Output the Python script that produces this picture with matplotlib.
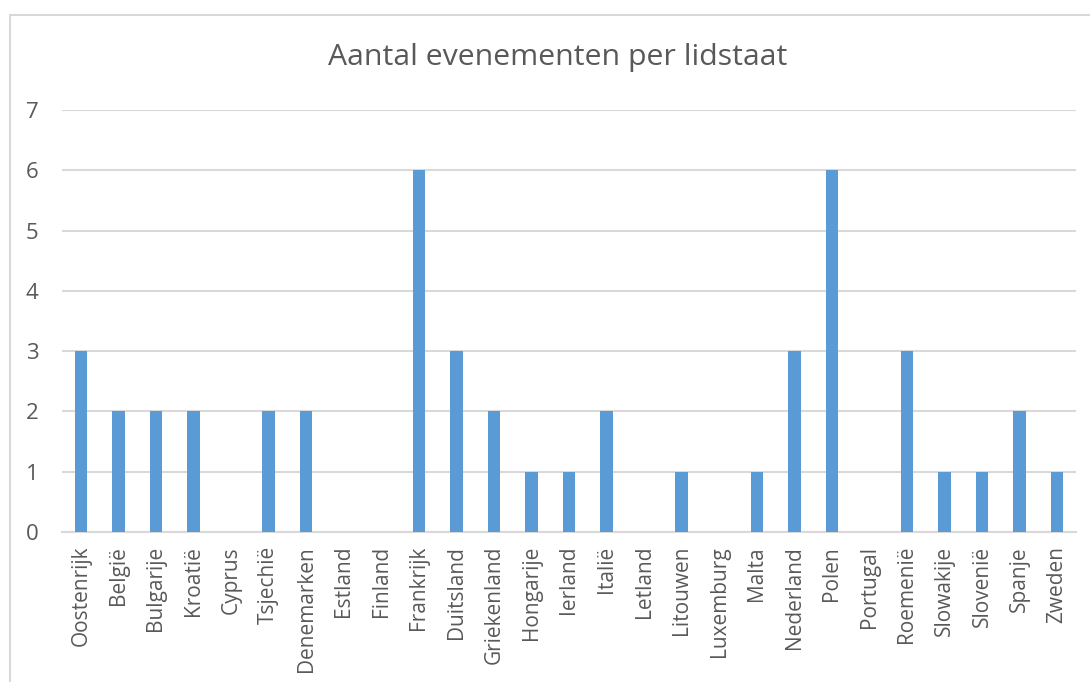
import matplotlib.pyplot as plt
from matplotlib.patches import Rectangle

# Aantal evenementen per lidstaat
landen = ['Oostenrijk', 'België', 'Bulgarije', 'Kroatië', 'Cyprus', 'Tsjechië',
          'Denemarken', 'Estland', 'Finland', 'Frankrijk', 'Duitsland',
          'Griekenland', 'Hongarije', 'Ierland', 'Italië', 'Letland', 'Litouwen',
          'Luxemburg', 'Malta', 'Nederland', 'Polen', 'Portugal', 'Roemenië',
          'Slowakije', 'Slovenië', 'Spanje', 'Zweden']
evenementen = [3, 2, 2, 2, 0, 2, 2, 0, 0, 6, 3, 2, 1, 1, 2, 0, 1, 0, 1, 3, 6, 0, 3, 1, 1, 2, 1]
y_ticks = [0, 1, 2, 3, 4, 5, 6, 7]

plt.rcParams['font.family'] = ['Open Sans', 'DejaVu Sans']
tekst = '#595959'
grid = '#d9d9d9'

fig = plt.figure(figsize=(10.9, 6.82), dpi=100)
ax = fig.add_axes([62 / 1090, 1 - 532 / 682, (1076 - 62) / 1090, (532 - 110) / 682])

# rand van de grafiek
fig.patches.append(Rectangle((10 / 1090, -0.1), 1.2, 1 - 15 / 682 + 0.1,
                             transform=fig.transFigure, fill=False,
                             edgecolor=grid, linewidth=1.5))

x = range(len(landen))
ax.bar(x, evenementen, width=0.33, color='#5b9bd5', zorder=3)

ax.set_xlim(-0.5, len(landen) - 0.5)
ax.set_ylim(0, 7)
ax.set_yticks(y_ticks)
ax.set_xticks(list(x))
ax.set_xticklabels(landen, rotation=90, fontsize=15, color=tekst)
ax.tick_params(axis='y', labelsize=16, colors=tekst, length=0, pad=17)
ax.tick_params(axis='x', length=0, pad=10)
ax.grid(axis='y', color=grid, linewidth=1.5, zorder=0)
for s in ['top', 'right', 'left']:
    ax.spines[s].set_visible(False)
ax.spines['bottom'].set_color(grid)
ax.spines['bottom'].set_linewidth(1.5)

fig.text(558 / 1090, 1 - 57 / 682, 'Aantal evenementen per lidstaat',
         ha='center', va='center', fontsize=21.8, color=tekst)

fig.savefig('out.png', dpi=100)
